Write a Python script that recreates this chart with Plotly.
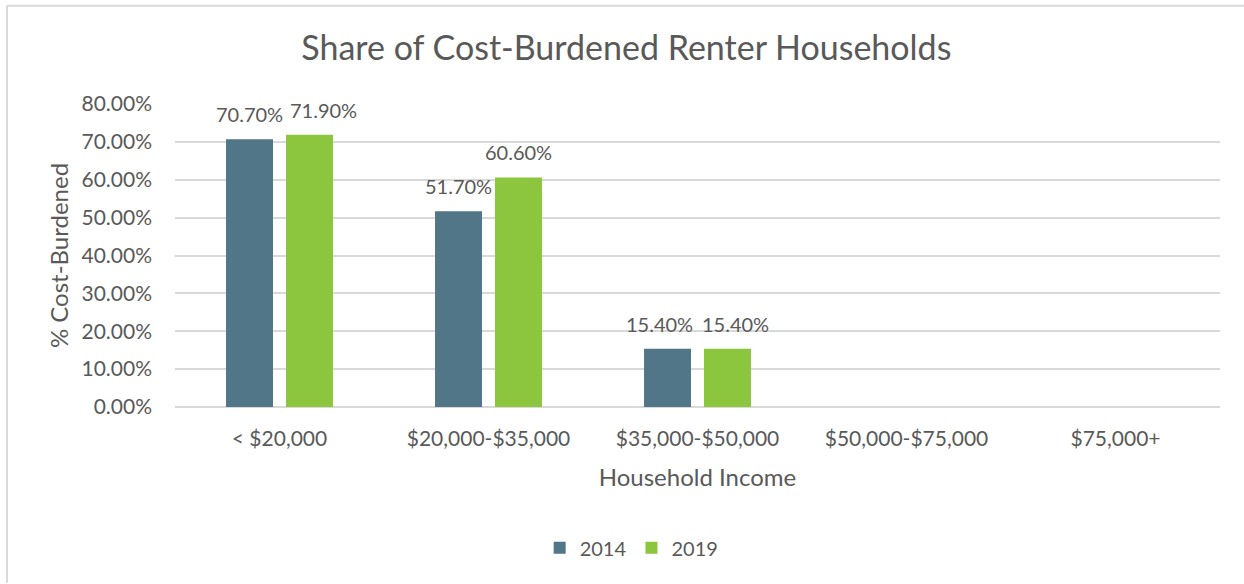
import plotly.graph_objects as go

categories = ["< $20,000", "$20,000-$35,000", "$35,000-$50,000", "$50,000-$75,000", "$75,000+"]
series_names = ["2014", "2019"]
values_2014 = [0.707, 0.517, 0.154, None, None]
values_2019 = [0.719, 0.606, 0.154, None, None]
y_ticks = [0, 0.1, 0.2, 0.3, 0.4, 0.5, 0.6, 0.7, 0.8]

# horizontal nudges (px) applied to data labels to avoid overlap, like Excel does
label_nudge_2014 = [0, 0, -8, 0, 0]
label_nudge_2019 = [14, 0, 8, 0, 0]

colors = ["#507688", "#8CC63F"]
font_family = "Lato, 'Open Sans', sans-serif"
text_color = "#595959"

fig = go.Figure()
for name, vals, col in zip(series_names, [values_2014, values_2019], colors):
    fig.add_trace(go.Bar(name=name, x=categories, y=vals, marker=dict(color=col, line=dict(width=0))))

offsets = [-30, 30]
for vals, dx, nudges in zip([values_2014, values_2019], offsets, [label_nudge_2014, label_nudge_2019]):
    for c, v, n in zip(categories, vals, nudges):
        if v is None:
            continue
        fig.add_annotation(x=c, y=v, xref="x", yref="y", text=f"{v*100:.2f}%",
                           showarrow=False, xshift=dx + n, yshift=11, yanchor="bottom",
                           font=dict(size=20, color=text_color, family=font_family))

# chart-area border (only left and top edges visible in the crop)
border = dict(color="#d9d9d9", width=2)
fig.add_shape(type="line", xref="paper", yref="paper", x0=-0.1608, x1=-0.1608, y0=-0.58, y1=1.3245,
              line=border, layer="below")
fig.add_shape(type="line", xref="paper", yref="paper", x0=-0.1608, x1=1.0229, y0=1.3245, y1=1.3245,
              line=border, layer="below")

fig.update_layout(
    width=1244, height=584,
    margin=dict(l=175, r=24, t=103.5, b=177),
    paper_bgcolor="white", plot_bgcolor="white",
    font=dict(family=font_family, color=text_color, size=20),
    title=dict(text="Share of Cost-Burdened Renter Households", x=0.5035, xanchor="center",
               y=0.918, yanchor="middle", font=dict(size=34, color=text_color, family=font_family)),
    barmode="group", bargap=0.426, bargroupgap=0.217,
    showlegend=True,
    legend=dict(orientation="h", x=0.437, xanchor="center", y=-0.4646, yanchor="middle",
                font=dict(size=20, color=text_color), itemwidth=30, traceorder="normal"),
    xaxis=dict(title=dict(text="Household Income", font=dict(size=24, color=text_color), standoff=20),
               tickfont=dict(size=21, color=text_color), showgrid=False, showline=False,
               ticks="", ticklabelstandoff=17),
    yaxis=dict(title=dict(text="% Cost-Burdened", font=dict(size=24, color=text_color), standoff=6),
               range=[0, 0.8], tickvals=y_ticks, tickformat=".2%",
               tickfont=dict(size=21, color=text_color),
               showgrid=True, gridcolor="#d9d9d9", gridwidth=1.5,
               zeroline=True, zerolinecolor="#d9d9d9", zerolinewidth=1.5,
               showline=False, ticks="", ticklabelstandoff=22),
)

fig.write_html("out.html", config={"displayModeBar": False},
               post_script="document.body.style.margin='0';document.body.style.overflow='hidden';")
